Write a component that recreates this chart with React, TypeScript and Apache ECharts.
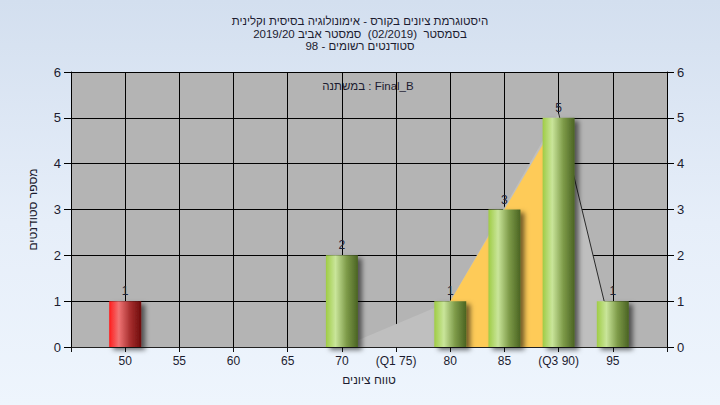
import React, { useEffect, useRef } from "react";
import * as echarts from "echarts";

const titleLines = [
  "היסטוגרמת ציונים בקורס - אימונולוגיה בסיסית וקלינית",
  "בסמסטר  (02/2019)  סמסטר אביב 2019/20",
  "סטודנטים רשומים - 98",
];
const variableLabel = "במשתנה : Final_B";
const xAxisName = "טווח ציונים";
const yAxisName = "מספר סטודנטים";

const gradeBins = [50, 55, 60, 65, 70, 75, 80, 85, 90, 95];
const counts = [1, 0, 0, 0, 2, 0, 1, 3, 5, 1];
const failBins = [50];

const xTicks = [45, 50, 55, 60, 65, 70, 75, 80, 85, 90, 95, 100];
const xTickLabels = ["", "50", "55", "60", "65", "70", "(Q1 75)", "80", "85", "(Q3 90)", "95", ""];

// distribution polygon
const greyCurveX = [70, 80, 90, 94.2];
const greyCurveY = [0, 1, 5.1, 1];
const iqrCurveX = [80, 90];
const iqrCurveY = [1, 5];
const tailLineX = [90, 94.2];
const tailLineY = [5.1, 1];

const FONT = "'Liberation Sans', 'DejaVu Sans', Arial, sans-serif";
const TEXT = "#1c1c30";

const greenGrad = new echarts.graphic.LinearGradient(0, 0, 1, 0, [
  { offset: 0, color: "#9fcc45" },
  { offset: 0.3, color: "#c9e59a" },
  { offset: 0.65, color: "#7d9a48" },
  { offset: 1, color: "#4a6322" },
]);
const redGrad = new echarts.graphic.LinearGradient(0, 0, 1, 0, [
  { offset: 0, color: "#ff1c1c" },
  { offset: 0.3, color: "#f07474" },
  { offset: 0.65, color: "#a83030" },
  { offset: 1, color: "#6e0a0a" },
]);

export default function App() {
  const ref = useRef<HTMLDivElement>(null);
  useEffect(() => {
    if (!ref.current) return;
    const chart = echarts.init(ref.current, null, { renderer: "svg" });
    const barData = gradeBins
      .map((g, i) => ({ g, c: counts[i] }))
      .filter((d) => d.c > 0)
      .map((d) => ({
        value: [d.g, d.c],
        itemStyle: { color: failBins.includes(d.g) ? redGrad : greenGrad },
      }));
    chart.setOption({
      animation: false,
      textStyle: { fontFamily: FONT },
      title: {
        text: titleLines.join("\n"),
        left: "center",
        top: 10,
        textStyle: { fontSize: 11.5, fontWeight: "normal", color: TEXT, lineHeight: 12.5, fontFamily: FONT },
      },
      graphic: [
        {
          type: "text",
          x: 368,
          y: 86,
          style: {
            text: variableLabel,
            fontSize: 11.5,
            fill: TEXT,
            fontFamily: FONT,
            align: "center",
            verticalAlign: "middle",
          },
        },
      ],
      grid: { left: 71, right: 53, top: 72, bottom: 58, show: true, backgroundColor: "#b4b4b4", borderWidth: 0 },
      xAxis: {
        type: "value",
        min: 45,
        max: 100,
        interval: 5,
        name: xAxisName,
        nameLocation: "middle",
        nameGap: 27,
        nameTextStyle: { fontSize: 12, color: TEXT, fontFamily: FONT },
        axisLine: { show: true, lineStyle: { color: "#222", width: 1 } },
        axisTick: { show: true, length: 5, lineStyle: { color: "#111" } },
        axisLabel: {
          fontSize: 12,
          color: TEXT,
          margin: 8,
          showMinLabel: true,
          showMaxLabel: true,
          formatter: (v: number) => {
            const i = xTicks.indexOf(v);
            return i >= 0 ? xTickLabels[i] : "";
          },
        },
        splitLine: { show: true, lineStyle: { color: "#000", width: 1 } },
      },
      yAxis: [
        {
          type: "value",
          min: 0,
          max: 6,
          interval: 1,
          name: yAxisName,
          nameLocation: "middle",
          nameGap: 32,
          nameTextStyle: { fontSize: 12, color: TEXT, fontFamily: FONT },
          axisLine: { show: true, lineStyle: { color: "#000" } },
          axisTick: { show: true, length: 7, lineStyle: { color: "#000" } },
          axisLabel: { fontSize: 13, color: TEXT, margin: 10 },
          splitLine: { show: true, lineStyle: { color: "#000", width: 1 } },
        },
        {
          type: "value",
          min: 0,
          max: 6,
          interval: 1,
          position: "right",
          axisLine: { show: true, lineStyle: { color: "#000" } },
          axisTick: { show: true, length: 7, lineStyle: { color: "#000" } },
          axisLabel: { fontSize: 13, color: TEXT, margin: 10 },
          splitLine: { show: false },
        },
      ],
      series: [
        {
          type: "line",
          data: greyCurveX.map((x, i) => [x, greyCurveY[i]]),
          symbol: "none",
          lineStyle: { width: 0 },
          areaStyle: { color: "#bfbfbf", opacity: 1 },
          z: 1,
        },
        {
          type: "line",
          data: iqrCurveX.map((x, i) => [x, iqrCurveY[i]]),
          symbol: "none",
          lineStyle: { width: 0 },
          areaStyle: { color: "#fecb58", opacity: 1 },
          z: 2,
        },
        {
          type: "line",
          data: tailLineX.map((x, i) => [x, tailLineY[i]]),
          symbol: "none",
          lineStyle: { width: 1, color: "#2a2a2a" },
          z: 3,
        },
        {
          type: "bar",
          data: barData,
          barWidth: 32,
          z: 5,
          itemStyle: {
            shadowBlur: 5,
            shadowOffsetX: 4,
            shadowOffsetY: 3,
            shadowColor: "rgba(0,0,0,0.55)",
          },
          label: {
            show: true,
            position: "top",
            distance: 4,
            fontSize: 12,
            color: "#1c2238",
            formatter: (p: any) => String(p.value[1]),
          },
        },
      ],
    });
    return () => chart.dispose();
  }, []);
  return (
    <div
      style={{
        position: "fixed",
        left: 0,
        top: 0,
        width: 720,
        height: 405,
        background: "linear-gradient(to bottom, #d3dfef 0%, #e6eef9 55%, #eef5fd 100%)",
      }}
    >
      <div ref={ref} style={{ width: 720, height: 405 }} />
    </div>
  );
}
